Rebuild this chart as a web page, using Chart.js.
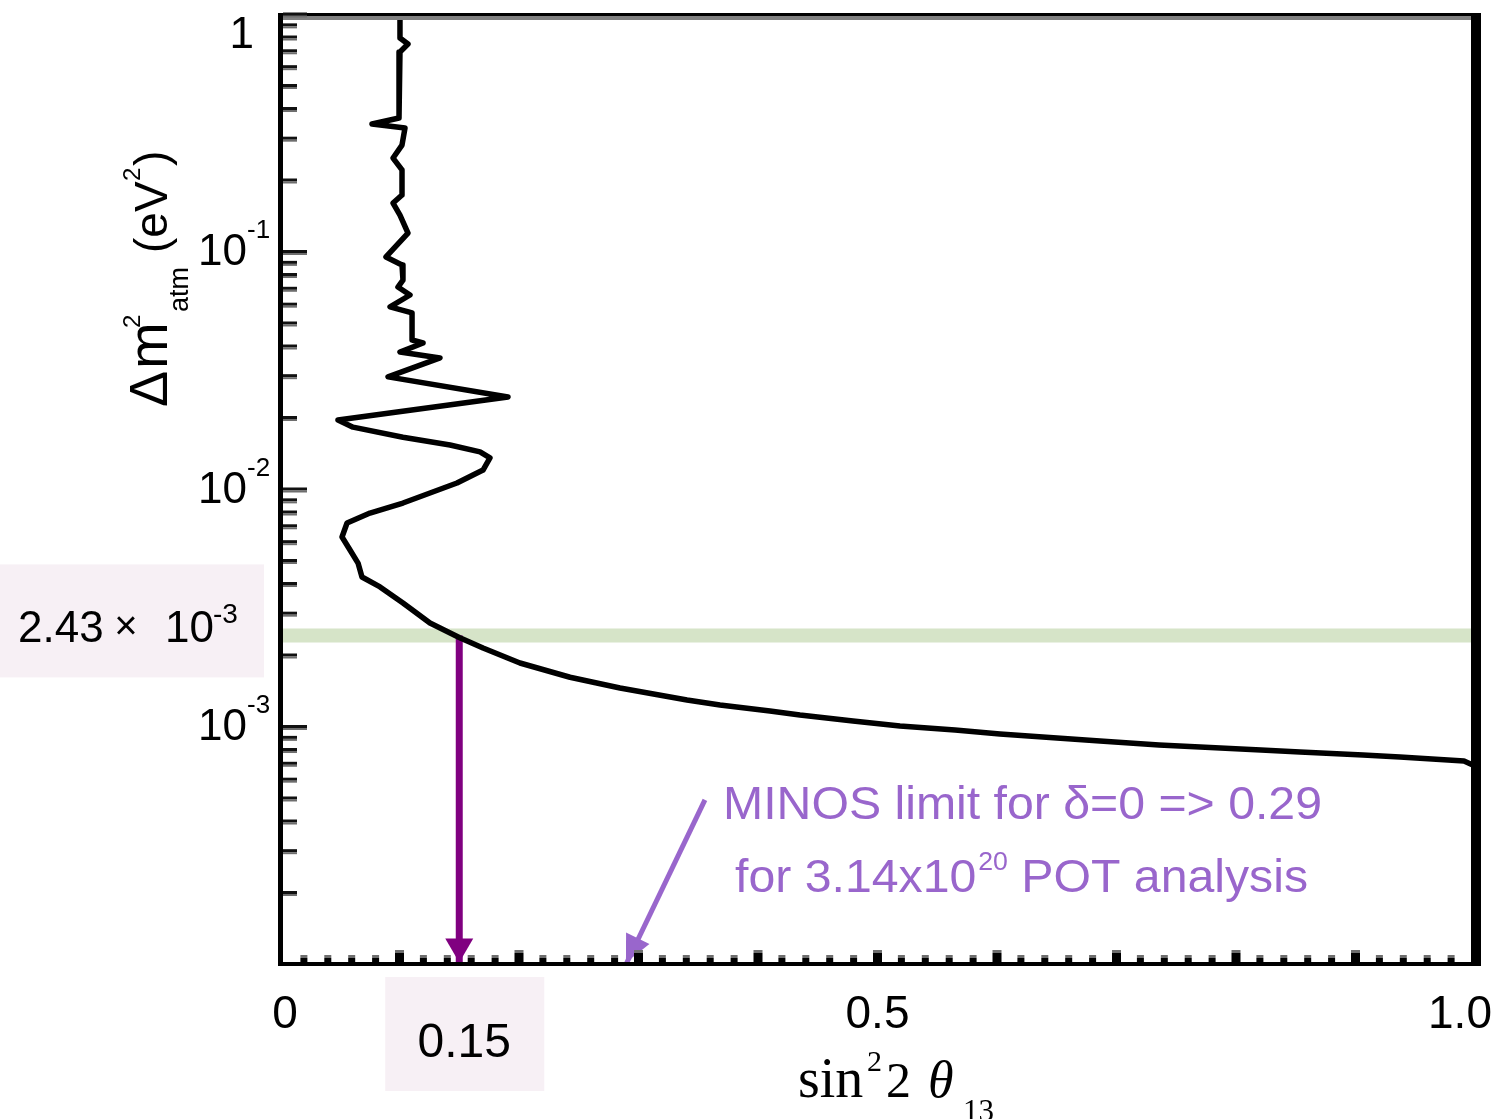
<!DOCTYPE html>
<html>
<head>
<meta charset="utf-8">
<script src="https://cdn.jsdelivr.net/npm/chart.js@4.4.1/dist/chart.umd.min.js"></script>
<style>
  html, body { margin: 0; padding: 0; background: #ffffff; }
  #wrap { width: 1496px; height: 1119px; }
</style>
</head>
<body>
<div id="wrap"><canvas id="contorno" width="1496" height="1119"></canvas></div>
<script>
// contorno de exclusión sin^2(2θ13) vs Δm^2_atm
const curveX = [
  0.1004, 0.1004, 0.1071, 0.1004, 0.0996, 0.0770, 0.1046, 0.1021, 0.0946, 0.1021,
  0.1021, 0.0946, 0.1004, 0.1071, 0.0887, 0.1021, 0.1029, 0.0987, 0.1088, 0.0921,
  0.1105, 0.1105, 0.1197, 0.1004, 0.1339, 0.0904, 0.1908, 0.0485, 0.0611, 0.1029,
  0.1423, 0.1674, 0.1757, 0.1699, 0.1481, 0.1029, 0.0753, 0.0561, 0.0519, 0.0586,
  0.0653, 0.0686, 0.0837, 0.1029, 0.1255, 0.1500, 0.1699, 0.2008, 0.2427, 0.2845,
  0.3406, 0.3682, 0.4100, 0.4351, 0.4795, 0.5188, 0.5649, 0.6025, 0.6502, 0.6862,
  0.7356, 0.7699, 0.8209, 0.8536, 0.9063, 0.9372, 0.9908, 1.0000
];
const curveY = [
  1.0, 0.796, 0.751, 0.695, 0.3665, 0.3458, 0.3327, 0.2820, 0.2487, 0.2215,
  0.1738, 0.1608, 0.1431, 0.1202, 0.0953, 0.0882, 0.0762, 0.0712, 0.0659, 0.0587,
  0.0554, 0.0426, 0.0414, 0.0379, 0.0358, 0.0298, 0.0245, 0.0196, 0.0183, 0.0166,
  0.0154, 0.0144, 0.01358, 0.01208, 0.01065, 0.00877, 0.00796, 0.00723, 0.00631, 0.00556,
  0.00490, 0.00428, 0.00389, 0.00333, 0.00274, 0.00238, 0.00215, 0.00186, 0.00162, 0.00146,
  0.00130, 0.001238, 0.001168, 0.001123, 0.001060, 0.001010, 0.000971, 0.000934, 0.000899, 0.000873,
  0.000840, 0.000824, 0.000800, 0.000785, 0.000762, 0.000748, 0.000719, 0.000685
];

const dmAtm = 2.43e-3;      // banda horizontal
const sinLimit = 0.15;      // límite leído sobre la banda
const minosArrowX = [0.3556, 0.2895];
const minosArrowY = [4.93e-4, 1.0e-4];

const xTickValues = [0, 0.5, 1.0];
const xTickLabels = ['0', '0.5', '1.0'];
const yTickValues = [1, 0.1, 0.01, 0.001];
const yTickBase = ['1', '10', '10', '10'];
const yTickExp = ['', '-1', '-2', '-3'];

const SANS = '"Liberation Sans", Arial, sans-serif';
const SERIF = '"Liberation Serif", "Times New Roman", serif';
const MORADO = '#800080';
const LILA = '#9966cc';

function escribir(ctx, txt, x, yb, font, color, align, sx) {
  ctx.save();
  ctx.font = font;
  ctx.fillStyle = color;
  ctx.textBaseline = 'alphabetic';
  ctx.textAlign = align || 'left';
  ctx.translate(x, yb);
  ctx.scale(sx || 1, 1);
  ctx.fillText(txt, 0, 0);
  ctx.restore();
}

function ancho(ctx, txt, font) {
  ctx.save();
  ctx.font = font;
  const w = ctx.measureText(txt).width;
  ctx.restore();
  return w;
}

function punta(ctx, tip, dir, largo, medio, color) {
  const n = Math.hypot(dir.x, dir.y);
  const ux = dir.x / n, uy = dir.y / n;
  const bx = tip.x - ux * largo, by = tip.y - uy * largo;
  ctx.save();
  ctx.fillStyle = color;
  ctx.beginPath();
  ctx.moveTo(tip.x, tip.y);
  ctx.lineTo(bx - uy * medio, by + ux * medio);
  ctx.lineTo(bx + uy * medio, by - ux * medio);
  ctx.closePath();
  ctx.fill();
  ctx.restore();
}

const marco = {
  id: 'marco',
  afterDatasetsDraw(chart) {
    const { ctx, chartArea: a, scales } = chart;
    const sx = scales.x, sy = scales.y;
    const L = a.left, R = a.right, T = a.top, B = a.bottom;

    // puntas de flecha
    const xl = sx.getPixelForValue(sinLimit);
    punta(ctx, { x: xl, y: B - 2 }, { x: 0, y: 1 }, 24, 14, MORADO);
    const p0 = { x: sx.getPixelForValue(minosArrowX[0]), y: sy.getPixelForValue(minosArrowY[0]) };
    const p1 = { x: sx.getPixelForValue(minosArrowX[1]), y: sy.getPixelForValue(minosArrowY[1]) - 2 };
    punta(ctx, p1, { x: p1.x - p0.x, y: p1.y - p0.y }, 27, 13, LILA);

    // marco
    ctx.save();
    ctx.fillStyle = '#000';
    ctx.fillRect(L - 2, T - 1.5, 5, B - T + 3);
    ctx.fillRect(L - 2, B - 2.5, R - L + 8, 4);
    ctx.fillRect(R - 4, T - 1.5, 10, B - T + 3);
    ctx.fillRect(L - 2, T - 1.5, R - L + 8, 3);
    ctx.fillStyle = '#808080';
    ctx.fillRect(L + 3, T + 1.5, R - L - 7, 4);

    // marcas del eje y (log)
    for (let k = -4; k <= 0; k++) {
      for (let m = 1; m <= 9; m++) {
        const v = m * Math.pow(10, k);
        if (v < 1e-4 * 1.001 || v > 1.0001) continue;
        const py = sy.getPixelForValue(v);
        const len = m === 1 ? 24 : 14;
        ctx.fillStyle = '#111';
        ctx.fillRect(L + 3, py - 2, len, 3);
        ctx.fillStyle = '#6e6e6e';
        ctx.fillRect(L + 3, py + 1, len, 2);
      }
    }
    // marcas del eje x
    for (let i = 1; i < 50; i++) {
      const px = sx.getPixelForValue(i * 0.02);
      const mayor = i % 5 === 0;
      const h = mayor ? 12 : 7;
      const w = mayor ? 9 : 7;
      ctx.fillStyle = '#6e6e6e';
      ctx.fillRect(px - w / 2, B - 2.5 - h, w, 3);
      ctx.fillStyle = '#000';
      ctx.fillRect(px - w / 2, B - 2.5 - h + 3, w, h - 3);
    }
    ctx.restore();

    // etiquetas eje y
    yTickValues.forEach((v, i) => {
      let py = sy.getPixelForValue(v);
      if (py < T + 18) py = T + 18;
      if (yTickExp[i]) {
        escribir(ctx, yTickBase[i], 247, py + 13, '44px ' + SANS, '#000', 'right');
        escribir(ctx, yTickExp[i], 247, py - 14, '26px ' + SANS, '#000', 'left');
      } else {
        escribir(ctx, yTickBase[i], 254, py + 15, '44px ' + SANS, '#000', 'right');
      }
    });

    // etiquetas eje x
    xTickValues.forEach((v, i) => {
      let px = sx.getPixelForValue(v);
      if (i === 0) px += 5;
      if (px > R - 20) px = R - 15;
      escribir(ctx, xTickLabels[i], px, 1028, '46px ' + SANS, '#000', 'center');
    });

    // título eje x: sin^2 2θ_13
    escribir(ctx, 'sin', 798, 1097, '56px ' + SERIF, '#000');
    escribir(ctx, '2', 867, 1071, '30px ' + SERIF, '#000');
    escribir(ctx, '2', 886, 1097, '50px ' + SERIF, '#000');
    escribir(ctx, 'θ', 928, 1097, 'italic 52px ' + SERIF, '#000');
    escribir(ctx, '13', 963, 1121, '31px ' + SERIF, '#000');

    // título eje y: Δm^2_atm (eV^2)
    ctx.save();
    ctx.translate(167, 407);
    ctx.rotate(-Math.PI / 2);
    escribir(ctx, 'Δ', 0, 0, '54px ' + SANS, '#000');
    escribir(ctx, 'm', 38, 0, '56px ' + SANS, '#000');
    escribir(ctx, '2', 79, -27, '24px ' + SANS, '#000');
    escribir(ctx, 'atm', 95, 21, '27px ' + SANS, '#000');
    escribir(ctx, '(eV', 154, 0, '46px ' + SANS, '#000');
    escribir(ctx, '2', 226, -27, '24px ' + SANS, '#000');
    escribir(ctx, ')', 241, 0, '46px ' + SANS, '#000');
    ctx.restore();

    // recuadro 2.43 × 10^-3
    const yb = sy.getPixelForValue(dmAtm);
    ctx.fillStyle = '#f7f0f5';
    ctx.fillRect(0, yb - 71, 264, 113);
    escribir(ctx, '2.43', 18, yb + 7, '44px ' + SANS, '#000');
    escribir(ctx, '×', 126, yb + 4, '40px ' + SANS, '#000', 'center');
    escribir(ctx, '10', 165, yb + 7, '44px ' + SANS, '#000');
    escribir(ctx, '-3', 213, yb - 12, '28px ' + SANS, '#000');

    // recuadro 0.15
    ctx.fillStyle = '#f7f0f5';
    ctx.fillRect(xl - 74, 977, 159, 114);
    escribir(ctx, '0.15', xl + 5, 1057, '48px ' + SANS, '#000', 'center');

    // anotación MINOS
    const f1 = '47px ' + SANS;
    const l1 = 'MINOS limit for δ=0 => 0.29';
    const esc = 599 / ancho(ctx, l1, f1);
    escribir(ctx, l1, 723, 819, f1, LILA, 'left', esc);
    const a1 = 'for 3.14x10', a2 = '20', a3 = ' POT analysis';
    let cx = 735;
    escribir(ctx, a1, cx, 892, f1, LILA, 'left', esc);
    cx += ancho(ctx, a1, f1) * esc + 2;
    escribir(ctx, a2, cx, 870, '26px ' + SANS, LILA, 'left', esc);
    cx += ancho(ctx, a2, '26px ' + SANS) * esc;
    escribir(ctx, a3, cx, 892, f1, LILA, 'left', esc);
  }
};

const puntos = curveX.map((x, i) => ({ x, y: curveY[i] }));

new Chart(document.getElementById('contorno'), {
  type: 'scatter',
  data: {
    datasets: [
      {
        label: 'contorno',
        data: puntos,
        showLine: true,
        borderColor: '#000',
        borderWidth: 5.5,
        borderJoinStyle: 'round',
        pointRadius: 0,
        tension: 0,
        order: 0
      },
      {
        label: 'banda',
        data: [{ x: 0, y: dmAtm }, { x: 1, y: dmAtm }],
        showLine: true,
        borderColor: '#d6e4c8',
        borderWidth: 14,
        pointRadius: 0,
        order: 3
      },
      {
        label: 'limite',
        data: [{ x: sinLimit, y: dmAtm }, { x: sinLimit, y: 1e-4 }],
        showLine: true,
        borderColor: MORADO,
        borderWidth: 7,
        pointRadius: 0,
        order: 1
      },
      {
        label: 'minos',
        data: minosArrowX.map((x, i) => ({ x, y: minosArrowY[i] })),
        showLine: true,
        borderColor: LILA,
        borderWidth: 5,
        pointRadius: 0,
        order: 1
      }
    ]
  },
  options: {
    responsive: false,
    animation: false,
    devicePixelRatio: 1,
    events: [],
    layout: { padding: { left: 280, right: 21, top: 14.5, bottom: 154.5 } },
    plugins: {
      legend: { display: false },
      tooltip: { enabled: false }
    },
    scales: {
      x: { type: 'linear', min: 0, max: 1, display: false },
      y: { type: 'logarithmic', min: 1e-4, max: 1, display: false }
    }
  },
  plugins: [marco]
});
</script>
</body>
</html>
